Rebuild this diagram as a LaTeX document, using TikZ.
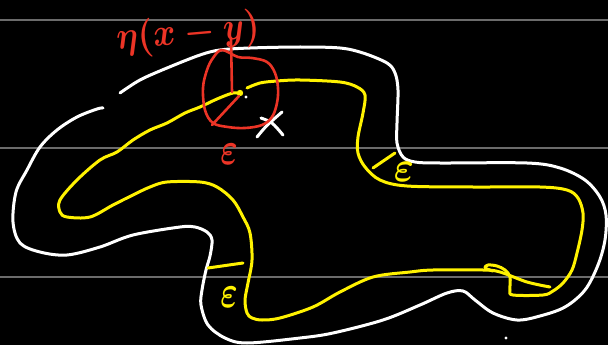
\documentclass[tikz,border=0pt]{standalone}
\usepackage{amsmath}
\usepackage{bm}
\definecolor{penred}{RGB}{236,52,38}
\definecolor{penyellow}{RGB}{255,242,0}
\begin{document}
\begin{tikzpicture}[x=1pt,y=-1pt,
  ruled/.style={draw=black!58!white,line width=1.4pt},
  whitepen/.style={draw=white,line width=3pt,line cap=round,line join=round},
  yellowpen/.style={draw=penyellow,line width=3pt,line cap=round,line join=round},
  redpen/.style={draw=penred,line width=2.6pt,line cap=round,line join=round},
  redtext/.style={text=penred,inner sep=0pt,font=\boldmath},
  yellowtext/.style={text=penyellow,inner sep=0pt,font=\boldmath}]
\fill[black] (0,0) rectangle (608,345);
\useasboundingbox (0,0) rectangle (608,345);
% ruled lines
\draw[ruled] (0,20) -- (608,20);
\draw[ruled] (0,148) -- (608,148);
\draw[ruled] (0,277) -- (608,277);
% outer white curve
\draw[whitepen] plot[smooth,tension=0.55] coordinates {
 (120,93) (140,80) (167,68) (200,55) (220,50) (250,48) (300,47) (340,48) (363,53)
 (387,63) (395,73) (398,90) (397,123) (397,143) (403,157) (415,162) (440,163)
 (527,163) (560,168) (585,180) (600,197) (606,215) (605,240) (598,265) (585,290)
 (565,307) (540,316) (517,320) (493,313) (475,300) (463,291) (447,293) (420,305)
 (383,320) (333,333) (300,338) (247,343) (225,338) (208,325) (201,305) (202,290)
 (206,270) (210,256) (212,240) (207,232) (195,227) (180,227) (133,235) (100,247)
 (67,255) (40,252) (20,243) (13,222) (16,192) (27,170) (40,147) (57,130) (77,117)
 (97,109) (103,108)};
% inner yellow curve, lower part
\draw[yellowpen] plot[smooth,tension=0.55] coordinates {
 (241,94) (233,93) (217,99) (200,107) (185,113) (167,123) (150,130) (133,140)
 (117,152) (100,160) (77,180) (60,200) (60,212) (67,217) (90,217) (113,205)
 (133,195) (150,187) (167,182) (200,182) (217,187) (233,200) (243,217) (250,233)
 (252,260) (248,283) (245,300) (247,313) (252,318) (262,320) (280,318) (313,307)
 (340,292) (373,277) (410,272) (433,270) (483,270) (500,272) (527,282) (550,287)};
% inner yellow curve, upper part
\draw[yellowpen] plot[smooth,tension=0.55] coordinates {
 (247,88) (260,83) (277,81) (300,80) (340,82) (357,87) (365,95) (363,113) (358,137)
 (358,153) (365,167) (380,180) (407,186) (473,187) (540,187) (567,190) (578,198)
 (583,213) (582,230) (577,253) (572,270) (563,283) (553,291) (543,295) (513,295)
 (510,290) (510,277) (505,270) (497,266) (488,265) (485,268) (493,271)};
\fill[penyellow] (240,93) circle (3.2);
\fill[white] (246,97) circle (1.6);
\fill[white] (506,338) circle (1.6);
% yellow ticks
\draw[yellowpen] (373,168) -- (395,153);
\draw[yellowpen] (208,268) -- (243,263);
% white cross
\draw[whitepen] (257,137) .. controls (266,126) .. (282,112);
\draw[whitepen] (261,118) .. controls (272,122) .. (283,135);
% red circle and radii
\draw[redpen] plot[smooth cycle,tension=0.6] coordinates {
 (238,57) (252,58) (267,62) (275,73) (278,88) (277,103) (272,117) (262,125)
 (245,128) (228,127) (213,123) (205,110) (203,88) (207,70) (213,58) (222,50)};
\draw[redpen] (231,38) -- (232,92);
\draw[redpen] (239,96) -- (212,125);
% labels
\node[redtext,rotate=5,xscale=3.4,yscale=3.9] (eta) at (188,34) {$\eta(x-y)$};
\node[redtext,xscale=3.3,yscale=4.6] (epsred) at (229,154) {$\varepsilon$};
\node[yellowtext,xscale=3.8,yscale=4.3] (epsmid) at (404,172) {$\varepsilon$};
\node[yellowtext,xscale=3.3,yscale=4.6] (epslow) at (229,297) {$\varepsilon$};
\end{tikzpicture}
\end{document}
